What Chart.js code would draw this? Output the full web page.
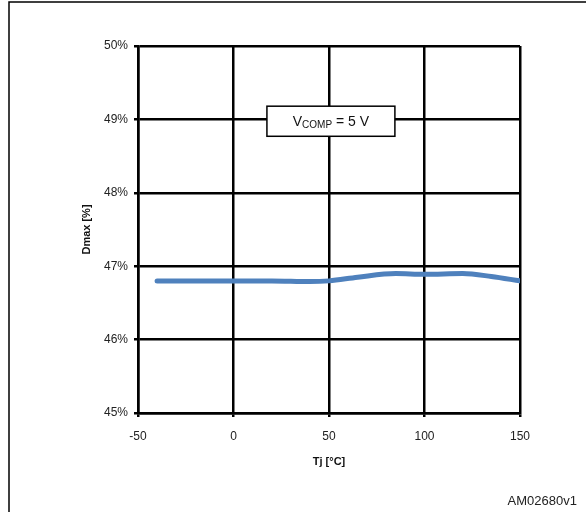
<!DOCTYPE html>
<html>
<head>
<meta charset="utf-8">
<script src="https://cdn.jsdelivr.net/npm/chart.js@4.4.1/dist/chart.umd.min.js"></script>
<style>
  html, body { margin: 0; padding: 0; background: #fff; }
  #wrap { width: 586px; height: 512px; position: relative; }
</style>
</head>
<body>
<div id="wrap"><canvas id="chart"></canvas></div>
<script>
// Tj in degC, Dmax in %
var tj = [-40, -20, 0, 20, 40, 50, 65, 85, 100, 120, 135, 150];
var dmax = [46.8, 46.8, 46.8, 46.8, 46.79, 46.8, 46.85, 46.9, 46.89, 46.9, 46.86, 46.8];
var xTicks = [-50, 0, 50, 100, 150];
var yTicks = [45, 46, 47, 48, 49, 50];
var noteText = ["V", "COMP", " = 5 V"];
var figId = "AM02680v1";

var fontFam = "'Liberation Sans', Arial, sans-serif";

var extras = {
  id: 'extras',
  afterDraw: function (chart) {
    var ctx = chart.ctx;
    var x = chart.scales.x, y = chart.scales.y;
    ctx.save();
    // outer frame lines
    ctx.strokeStyle = '#000';
    ctx.lineWidth = 1.5;
    ctx.beginPath();
    ctx.moveTo(9, 512);
    ctx.lineTo(9, 2);
    ctx.lineTo(586, 2);
    ctx.stroke();

    // V_COMP note box
    var l = x.getPixelForValue(17.5), r = x.getPixelForValue(84.5);
    var t = y.getPixelForValue(49.18), b = y.getPixelForValue(48.77);
    ctx.fillStyle = '#fff';
    ctx.fillRect(l, t, r - l, b - t);
    ctx.lineWidth = 1.5;
    ctx.strokeRect(l, t, r - l, b - t);
    ctx.fillStyle = '#111';
    ctx.textBaseline = 'alphabetic';
    ctx.font = '14px ' + fontFam;
    var w1 = ctx.measureText(noteText[0]).width;
    ctx.font = '10px ' + fontFam;
    var w2 = ctx.measureText(noteText[1]).width;
    ctx.font = '14px ' + fontFam;
    var w3 = ctx.measureText(noteText[2]).width;
    var sx = (l + r) / 2 - (w1 + w2 + w3) / 2;
    var base = (t + b) / 2 + 5;
    ctx.fillText(noteText[0], sx, base);
    ctx.font = '10px ' + fontFam;
    ctx.fillText(noteText[1], sx + w1, base + 2);
    ctx.font = '14px ' + fontFam;
    ctx.fillText(noteText[2], sx + w1 + w2, base);

    // figure id
    ctx.font = '13px ' + fontFam;
    ctx.textAlign = 'right';
    ctx.fillStyle = '#222';
    ctx.fillText(figId, 577, 505);
    ctx.restore();
  }
};

new Chart(document.getElementById('chart'), {
  type: 'line',
  data: {
    datasets: [{
      data: tj.map(function (t, i) { return { x: t, y: dmax[i] }; }),
      borderColor: '#4F81BD',
      borderWidth: 5,
      borderCapStyle: 'round',
      pointRadius: 0,
      tension: 0.4,
      cubicInterpolationMode: 'monotone',
      fill: false
    }]
  },
  options: {
    responsive: true,
    maintainAspectRatio: false,
    animation: false,
    events: [],
    layout: { padding: { left: 0, top: 46, right: 66, bottom: 29 } },
    plugins: { legend: { display: false }, tooltip: { enabled: false } },
    scales: {
      x: {
        type: 'linear',
        min: -50, max: 150,
        afterBuildTicks: function (s) { s.ticks = xTicks.map(function (v) { return { value: v }; }); },
        afterFit: function (s) { s.height = 70; },
        grid: { color: '#000', lineWidth: 2.5, tickLength: 4, drawTicks: true },
        border: { color: '#000', width: 2.5 },
        ticks: { color: '#222', padding: 12, font: { family: fontFam, size: 12 }, maxRotation: 0 },
        title: { display: true, text: 'Tj [°C]', color: '#111', font: { family: fontFam, size: 11, weight: 'bold' }, padding: { top: 0, bottom: 14 } }
      },
      y: {
        type: 'linear',
        min: 45, max: 50,
        afterBuildTicks: function (s) { s.ticks = yTicks.map(function (v) { return { value: v }; }); },
        afterFit: function (s) { s.width = 138; },
        grid: { color: '#000', lineWidth: 2.5, tickLength: 4, drawTicks: true },
        border: { color: '#000', width: 2.5 },
        ticks: { color: '#222', padding: 6, font: { family: fontFam, size: 12 }, callback: function (v) { return v + '%'; } },
        title: { display: true, text: 'Dmax [%]', color: '#111', font: { family: fontFam, size: 11, weight: 'bold' }, padding: { top: 80, bottom: 0 } }
      }
    }
  },
  plugins: [extras]
});
</script>
</body>
</html>
